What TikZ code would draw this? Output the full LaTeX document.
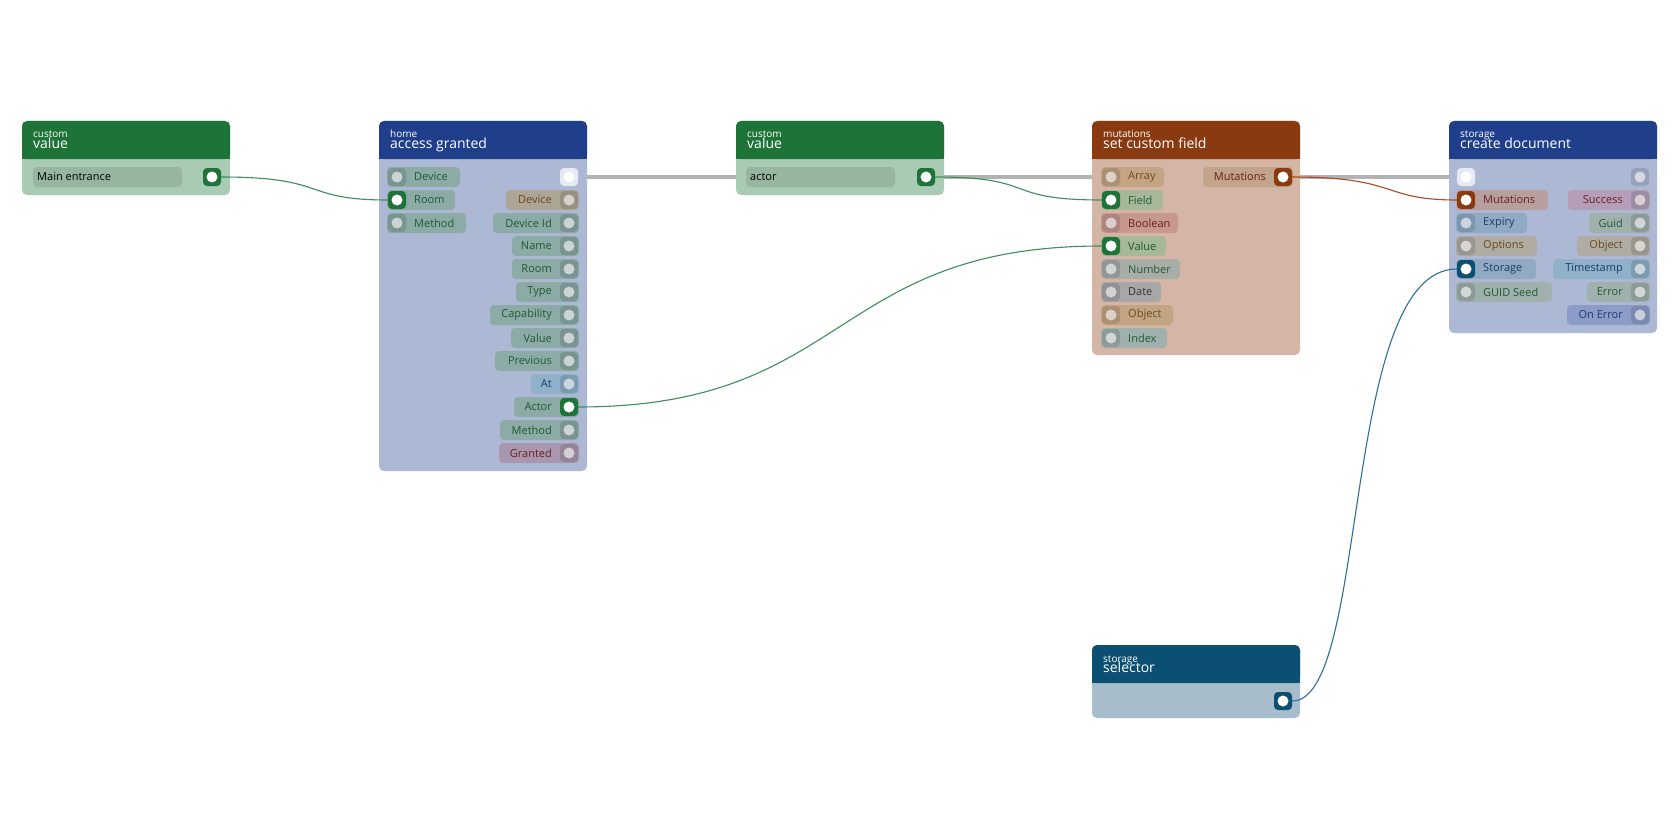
\documentclass[tikz,border=0pt]{standalone}
\usepackage{fontspec}
\setmainfont{Open Sans}
\begin{document}
\begin{tikzpicture}[x=1pt,y=-1pt,
 pill/.style={rounded corners=4pt},
 lbl/.style={font=\fontsize{11}{12}\selectfont, inner sep=0pt},
 port/.style={rectangle, rounded corners=4pt, minimum size=18pt, inner sep=0pt, fill=#1,
   path picture={\fill[white] (path picture bounding box.center) circle (5.5pt);}},
 uport/.style={rectangle, rounded corners=4pt, minimum size=18pt, inner sep=0pt, fill=black, fill opacity=0.12,
   path picture={\fill[white,fill opacity=0.6] (path picture bounding box.center) circle (5.5pt);}},
 wport/.style={rectangle, rounded corners=4pt, minimum size=18pt, inner sep=0pt, fill=white, fill opacity=0.7,
   path picture={\fill[white,fill opacity=1] (path picture bounding box.center) circle (5.5pt);}},
 small/.style={anchor=base west,inner sep=0pt,text=white,font=\fontsize{10}{10}\selectfont},
 title/.style={anchor=base west,inner sep=0pt,text=white,font=\fontsize{14}{14}\selectfont},
 wire/.style={line width=1.1pt}]
\definecolor{gH}{HTML}{1E7338}\definecolor{gB}{HTML}{A9CBB3}
\definecolor{bH}{HTML}{1F3F8A}\definecolor{bB}{HTML}{ADB9D4}
\definecolor{rH}{HTML}{8A3A10}\definecolor{rB}{HTML}{D5B5A6}
\definecolor{sH}{HTML}{0B5073}\definecolor{sB}{HTML}{A7BDCB}
\definecolor{tG}{HTML}{1E5A32}\definecolor{tB}{HTML}{6A4A1A}\definecolor{tR}{HTML}{6A1E1E}\definecolor{tN}{HTML}{1E3A6A}
\definecolor{pG}{HTML}{8CAAA6}\definecolor{pT}{HTML}{ADA596}\definecolor{pP}{HTML}{A897AE}\definecolor{pS}{HTML}{8FB1C9}
\definecolor{pA}{HTML}{C4A583}\definecolor{pF}{HTML}{A6B79A}\definecolor{pR}{HTML}{C79890}\definecolor{pN}{HTML}{A8ADA8}
\definecolor{pD}{HTML}{A7A7A7}\definecolor{pI}{HTML}{A0B1AD}\definecolor{pM}{HTML}{B79FA0}\definecolor{pE}{HTML}{8FAAC2}
\definecolor{pO}{HTML}{B0ABA3}\definecolor{pU}{HTML}{B59FB8}\definecolor{pV}{HTML}{8C9CC6}
\definecolor{pK}{HTML}{98B5A0}
\definecolor{wG}{HTML}{3A9058}\definecolor{wR}{HTML}{A84A20}\definecolor{wB}{HTML}{2E6E98}
\useasboundingbox (0,0) rectangle (1680,840);
\fill[white] (0,0) rectangle (1680,840);
\newcommand\inpin[8]{\fill[#6,pill] (#2-10,#3-10) rectangle (#4,#3+10);
  \node[lbl,text=#7,anchor=west] at (#2+17,#3) {#5};
  \node[#8] (#1) at (#2,#3) {};}
\newcommand\outpin[8]{\fill[#6,pill] (#4,#3-10) rectangle (#2+10,#3+10);
  \node[lbl,text=#7,anchor=east] at (#2-17,#3) {#5};
  \node[#8] (#1) at (#2,#3) {};}
\newcommand\block[8]{%
  \fill[#5,rounded corners=5pt] (#1,121) rectangle (#2,#3);
  \fill[#4,rounded corners=5pt] (#1,121) rectangle (#2,159);
  \fill[#4] (#1,150) rectangle (#2,159);
  \node[small] at (#1+11,138) {#6};
  \node[title] (#8) at (#1+11,148) {#7};}
\draw[line width=4pt,black!30] (569,177) -- (1466,177);
\block{22}{230}{195}{gH}{gB}{custom}{value}{v1}
\fill[pK,pill] (33,167) rectangle (182,187);
\node[lbl,anchor=west] at (37,177) {Main entrance};
\node[port=gH] (v1o) at (212,177) {};
\block{379}{587}{471}{bH}{bB}{home}{access granted}{ag}
\node[wport] (agx) at (569,177) {};
\inpin{agDev}{397}{177}{460}{Device}{pG}{tG}{uport}
\inpin{agRoom}{397}{200}{455}{Room}{pG}{tG}{port=gH}
\inpin{agMet}{397}{223}{466}{Method}{pG}{tG}{uport}
\outpin{o1}{569}{200}{506}{Device}{pT}{tB}{uport}
\outpin{o2}{569}{223}{493}{Device Id}{pG}{tG}{uport}
\outpin{o3}{569}{246}{512}{Name}{pG}{tG}{uport}
\outpin{o4}{569}{269}{512}{Room}{pG}{tG}{uport}
\outpin{o5}{569}{292}{516}{Type}{pG}{tG}{uport}
\outpin{o6}{569}{315}{490}{Capability}{pG}{tG}{uport}
\outpin{o7}{569}{338}{511}{Value}{pG}{tG}{uport}
\outpin{o8}{569}{361}{495}{Previous}{pG}{tG}{uport}
\outpin{o9}{569}{384}{531}{At}{pS}{tN}{uport}
\outpin{agAct}{569}{407}{514}{Actor}{pG}{tG}{port=gH}
\outpin{o11}{569}{430}{500}{Method}{pG}{tG}{uport}
\outpin{o12}{569}{453}{499}{Granted}{pP}{tR}{uport}
\block{736}{944}{195}{gH}{gB}{custom}{value}{v2}
\fill[pK,pill] (746,167) rectangle (895,187);
\node[lbl,anchor=west] at (750,177) {actor};
\node[port=gH] (v2o) at (926,177) {};
\block{1092}{1300}{355}{rH}{rB}{mutations}{set custom field}{sc}
\inpin{scArr}{1111}{177}{1164}{Array}{pA}{tB}{uport}
\inpin{scFld}{1111}{200}{1163}{Field}{pF}{tG}{port=gH}
\inpin{scBool}{1111}{223}{1178}{Boolean}{pR}{tR}{uport}
\inpin{scVal}{1111}{246}{1166}{Value}{pF}{tG}{port=gH}
\inpin{scNum}{1111}{269}{1180}{Number}{pN}{tG}{uport}
\inpin{scDate}{1111}{292}{1161}{Date}{pD}{black!80}{uport}
\inpin{scObj}{1111}{315}{1173}{Object}{pA}{tB}{uport}
\inpin{scIdx}{1111}{338}{1167}{Index}{pI}{tG}{uport}
\outpin{scMut}{1283}{177}{1203}{Mutations}{pA!80!pM}{tR}{port=rH}
\block{1449}{1657}{333}{bH}{bB}{storage}{create document}{cd}
\node[wport] (cdx) at (1466,177) {};
\node[uport] (cdy) at (1640,177) {};
\inpin{cdMut}{1466}{200}{1548}{Mutations}{pM}{tR}{port=rH}
\inpin{cdExp}{1466}{223}{1527}{Expiry}{pE}{tN}{uport}
\inpin{cdOpt}{1466}{246}{1537}{Options}{pO}{tB}{uport}
\inpin{cdSto}{1466}{269}{1536}{Storage}{pE}{tN}{port=sH}
\inpin{cdGs}{1466}{292}{1552}{GUID Seed}{pI}{tG}{uport}
\outpin{c1}{1640}{200}{1568}{Success}{pU}{tR}{uport}
\outpin{c2}{1640}{223}{1589}{Guid}{pI}{tG}{uport}
\outpin{c3}{1640}{246}{1577}{Object}{pO}{tB}{uport}
\outpin{c4}{1640}{269}{1553}{Timestamp}{pS}{tN}{uport}
\outpin{c5}{1640}{292}{1587}{Error}{pI}{tG}{uport}
\outpin{c6}{1640}{315}{1567}{On Error}{pV}{tN}{uport}
\fill[sB,rounded corners=5pt] (1092,645) rectangle (1300,718);
\fill[sH,rounded corners=5pt] (1092,645) rectangle (1300,683);
\fill[sH] (1092,674) rectangle (1300,683);
\node[small] at (1103,662) {storage};
\node[title] (sel) at (1103,672) {selector};
\node[port=sH] (selo) at (1283,701) {};
\draw[wire,wG] (v1o.east) .. controls (330,177) and (300,200) .. (agRoom.west);
\draw[wire,wG] (v2o.east) .. controls (1040,177) and (1000,200) .. (scFld.west);
\draw[wire,wG] (agAct.east) .. controls (850,407) and (830,246) .. (scVal.west);
\draw[wire,wR] (scMut.east) .. controls (1400,177) and (1380,200) .. (cdMut.west);
\draw[wire,wB] (selo.east) .. controls (1370,701) and (1340,269) .. (cdSto.west);
\end{tikzpicture}
\end{document}
